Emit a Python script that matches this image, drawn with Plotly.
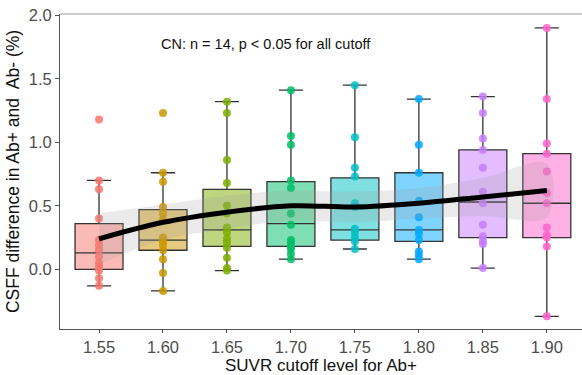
import plotly.graph_objects as go

cutoffs = ["1.55", "1.60", "1.65", "1.70", "1.75", "1.80", "1.85", "1.90"]
colors = ["#F8766D", "#CD9600", "#7CAE00", "#00BE67", "#00BFC4", "#00A9FF", "#C77CFF", "#FF61CC"]

# box statistics
q1 = [0.00, 0.15, 0.18, 0.18, 0.23, 0.22, 0.25, 0.25]
median = [0.13, 0.23, 0.31, 0.36, 0.31, 0.31, 0.53, 0.52]
q3 = [0.36, 0.47, 0.63, 0.69, 0.72, 0.76, 0.94, 0.91]
lower_whisker = [-0.13, -0.17, -0.01, 0.08, 0.16, 0.08, 0.01, -0.37]
upper_whisker = [0.70, 0.76, 1.32, 1.41, 1.45, 1.34, 1.36, 1.90]

# individual points per cutoff
points = [
    [1.18, 0.70, 0.63, 0.40, 0.23, 0.19, 0.15, 0.10, 0.05, 0.02, -0.01, -0.07, -0.13],
    [1.23, 0.76, 0.69, 0.49, 0.44, 0.39, 0.25, 0.22, 0.19, 0.15, 0.08, -0.03, -0.17],
    [1.32, 1.23, 0.86, 0.68, 0.50, 0.44, 0.33, 0.29, 0.24, 0.21, 0.17, 0.09, 0.01, -0.01],
    [1.41, 1.05, 0.98, 0.70, 0.64, 0.44, 0.35, 0.23, 0.21, 0.18, 0.16, 0.12, 0.08],
    [1.45, 1.04, 0.80, 0.73, 0.52, 0.49, 0.32, 0.29, 0.25, 0.22, 0.16],
    [1.34, 0.98, 0.76, 0.54, 0.41, 0.31, 0.28, 0.23, 0.14, 0.11, 0.08],
    [1.36, 1.23, 1.03, 0.94, 0.80, 0.61, 0.52, 0.35, 0.26, 0.22, 0.20, 0.01],
    [1.90, 1.34, 0.99, 0.91, 0.77, 0.60, 0.52, 0.33, 0.27, 0.25, 0.18, -0.37],
]

# smoothed trend and its confidence band
smooth_fit = [0.24, 0.37, 0.45, 0.50, 0.49, 0.52, 0.57, 0.62]
smooth_se = [0.20, 0.14, 0.13, 0.12, 0.12, 0.12, 0.15, 0.21]

fig = go.Figure()

for i, c in enumerate(cutoffs):
    col = colors[i]
    r, g, b = int(col[1:3], 16), int(col[3:5], 16), int(col[5:7], 16)
    fig.add_trace(go.Box(
        x=[c], q1=[q1[i]], median=[median[i]], q3=[q3[i]],
        lowerfence=[lower_whisker[i]], upperfence=[upper_whisker[i]],
        fillcolor=f"rgba({r},{g},{b},0.5)",
        line=dict(color="#333333", width=1.3),
        width=0.75, boxpoints=False, showlegend=False, hoverinfo="skip",
    ))

for i, c in enumerate(cutoffs):
    col = colors[i]
    r, g, b = int(col[1:3], 16), int(col[3:5], 16), int(col[5:7], 16)
    fig.add_trace(go.Scatter(
        x=[c] * len(points[i]), y=points[i], mode="markers",
        marker=dict(color=f"rgba({r},{g},{b},0.85)", size=8),
        showlegend=False,
    ))

upper = [f + s for f, s in zip(smooth_fit, smooth_se)]
lower = [f - s for f, s in zip(smooth_fit, smooth_se)]
fig.add_trace(go.Scatter(
    x=cutoffs + cutoffs[::-1], y=upper + lower[::-1],
    fill="toself", fillcolor="rgba(160,160,160,0.22)",
    line=dict(width=0, shape="spline"), mode="lines", showlegend=False, hoverinfo="skip",
))
fig.add_trace(go.Scatter(
    x=cutoffs, y=smooth_fit, mode="lines",
    line=dict(color="black", width=5, shape="spline"), showlegend=False,
))

fig.add_annotation(
    x=0.395, y=0.935, xref="paper", yref="paper",
    text="CN: n = 14, p < 0.05 for all cutoff", showarrow=False,
    font=dict(family="Liberation Sans", size=14.5, color="#111111"),
)

fig.update_layout(
    width=582, height=375,
    margin=dict(l=60, r=0, t=14, b=46),
    paper_bgcolor="white", plot_bgcolor="white",
    boxmode="overlay",
    font=dict(family="Liberation Sans", size=16.5, color="#4d4d4d"),
    shapes=[dict(type="line", xref="paper", yref="paper", x0=0, x1=1, y0=1, y1=1,
                 line=dict(color="#bbbbbb", width=1.5))],
)
fig.update_xaxes(
    type="category", range=[-0.61, 7.55],
    showline=True, linecolor="#555555", linewidth=1,
    ticks="outside", ticklen=3, tickcolor="#555555",
    showgrid=False, zeroline=False,
    tickfont=dict(size=16.5, color="#4d4d4d"),
    title=dict(text="SUVR cutoff level for Ab+", font=dict(size=17, color="#111111"), standoff=3),
)
fig.update_yaxes(
    range=[-0.47, 2.01],
    tickvals=[0.0, 0.5, 1.0, 1.5, 2.0], ticktext=["0.0", "0.5", "1.0", "1.5", "2.0"],
    showline=True, linecolor="#555555", linewidth=1,
    ticks="outside", ticklen=4, tickcolor="#555555",
    showgrid=False, zeroline=False,
    tickfont=dict(size=16.5, color="#4d4d4d"),
    title=dict(text="CSFF difference in Ab+ and&nbsp; Ab- (%)", font=dict(size=17.5, color="#111111"), standoff=4),
)

fig.write_html("out.html")
